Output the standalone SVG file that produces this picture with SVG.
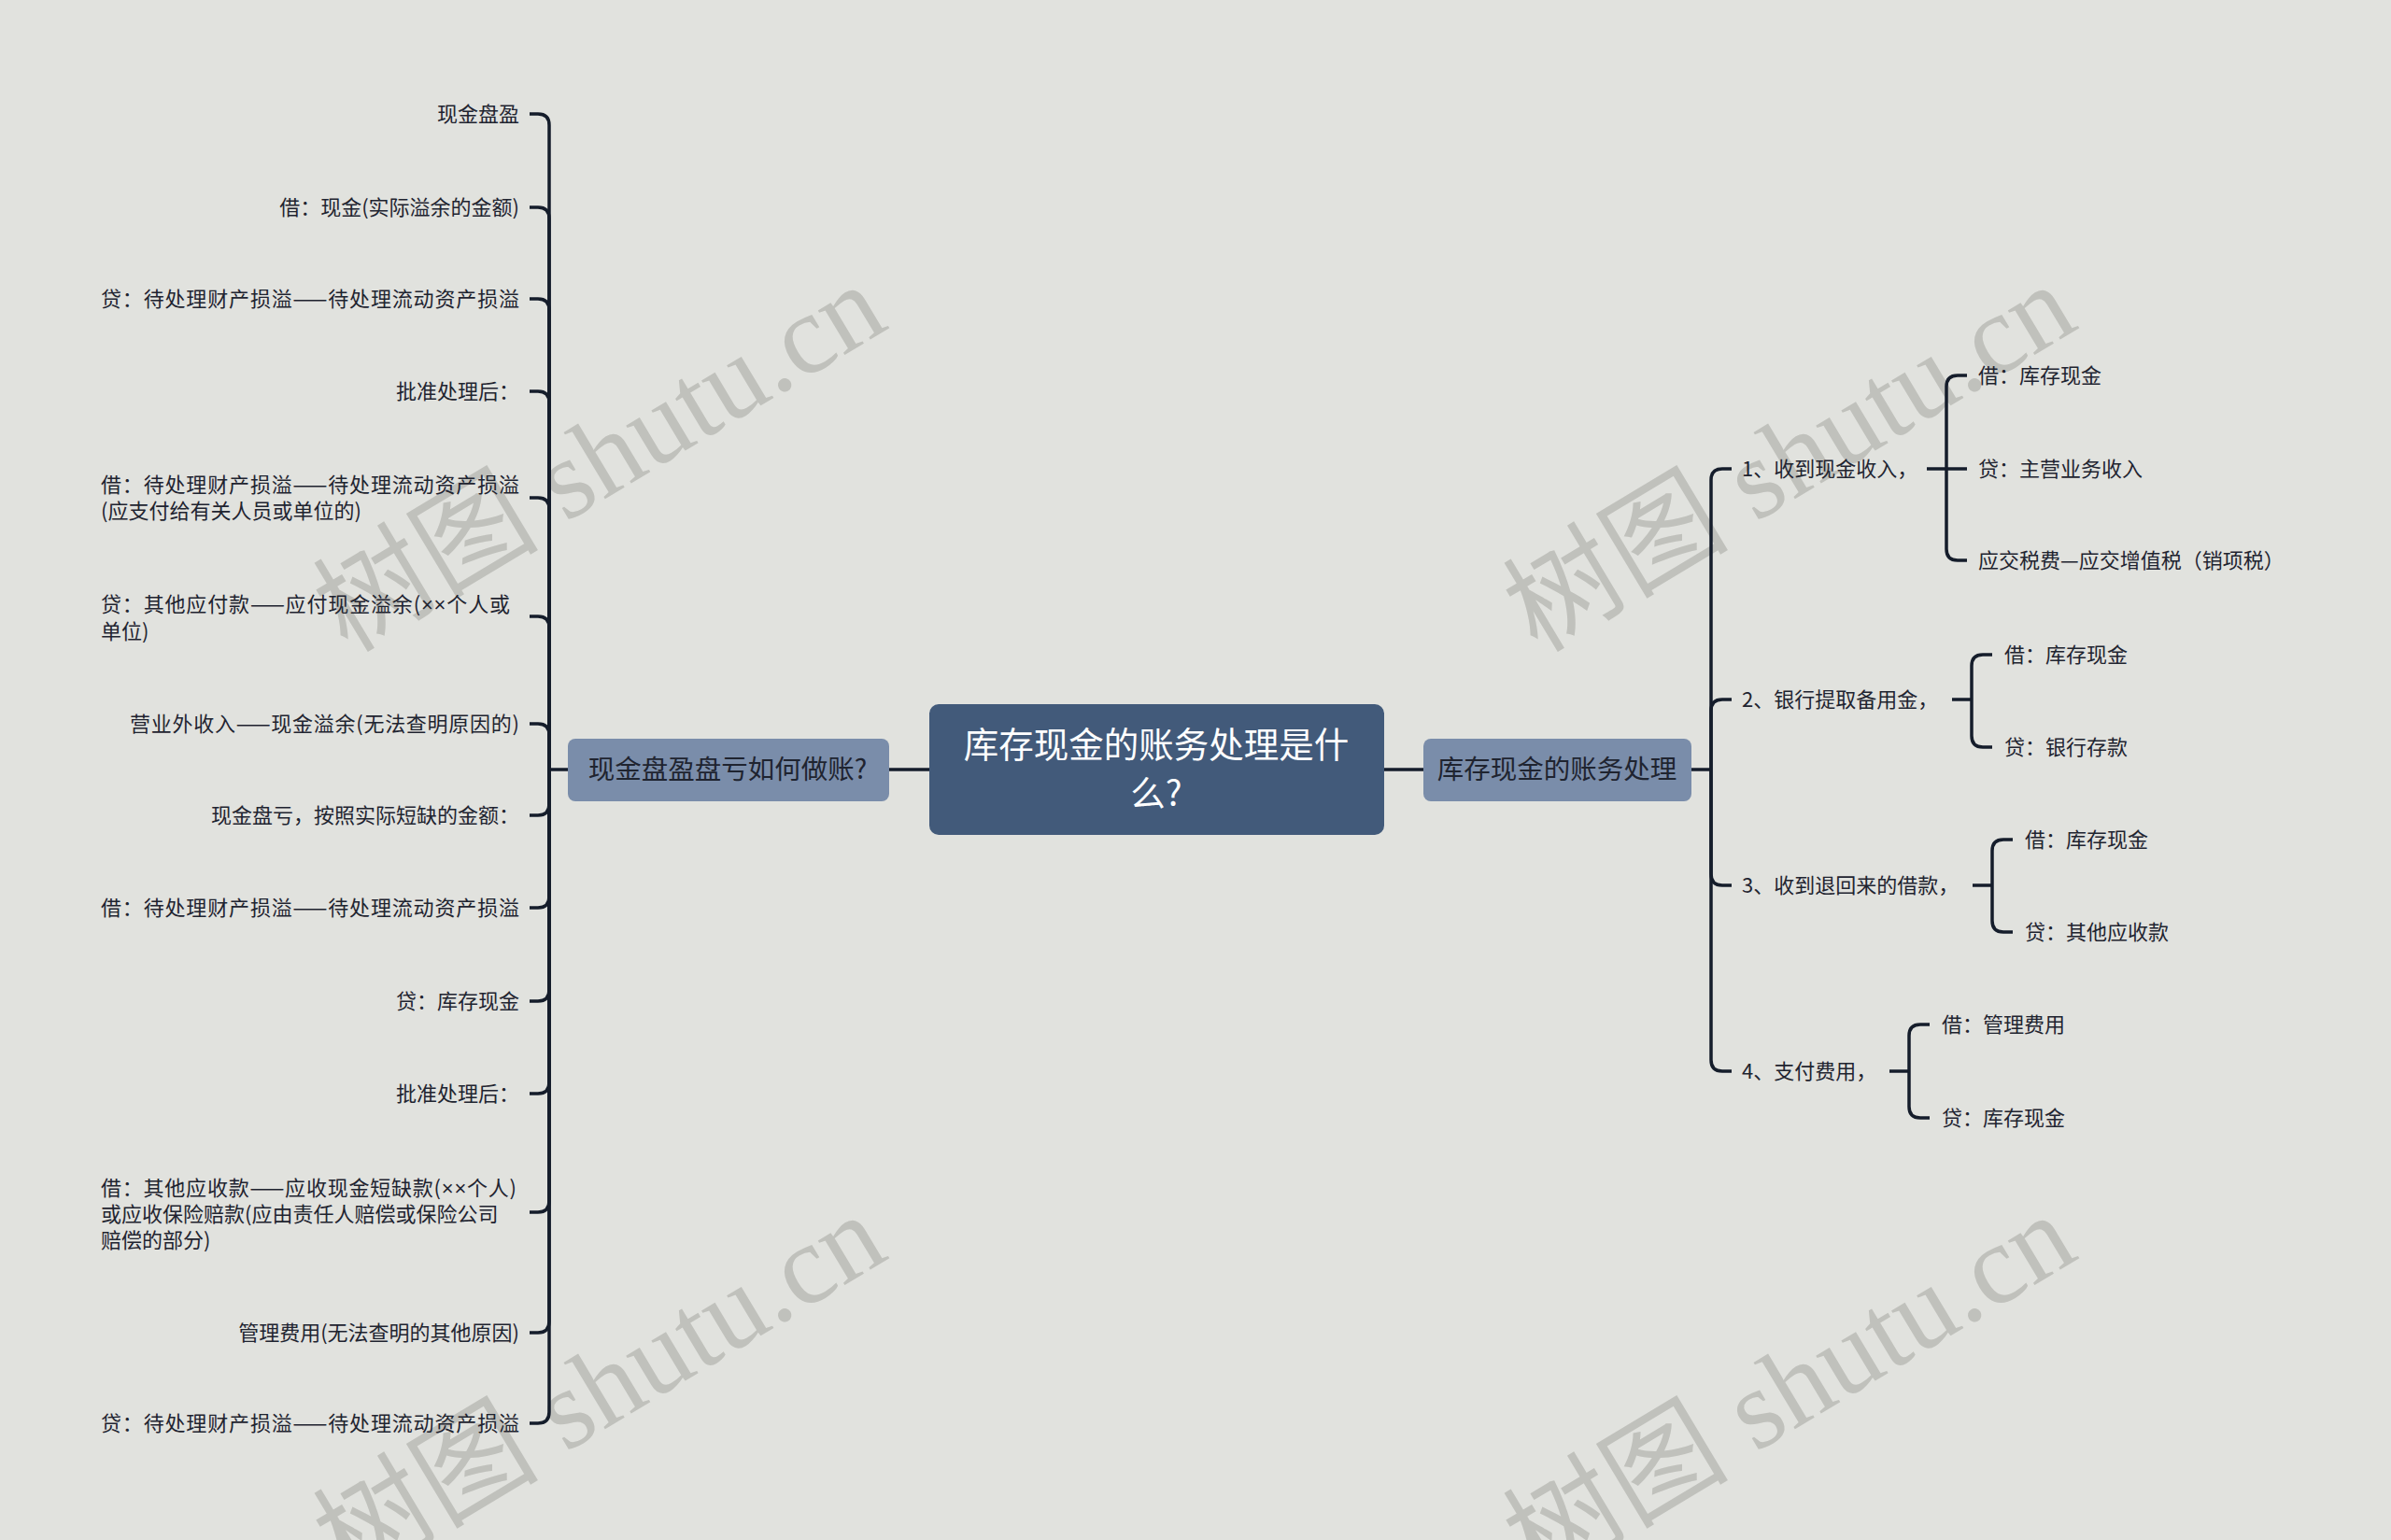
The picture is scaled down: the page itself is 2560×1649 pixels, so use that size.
<svg xmlns="http://www.w3.org/2000/svg" width="2560" height="1649" viewBox="0 0 2560 1649">
<style>
.bg{fill:#e1e2de}
.wm{font-family:"Liberation Serif","Noto Sans CJK SC",serif;font-size:121px;fill:#c0c1bc}
.t{font-family:"Noto Sans CJK SC","Noto Sans",sans-serif;font-size:22px;fill:#1f2430}
.r{text-anchor:end}
.x{font-family:"Liberation Sans",sans-serif}
.c{stroke:#151d2b;stroke-width:3.5;fill:none;stroke-linecap:butt}
.root{fill:#425a7a}
.sub{fill:#7a8daa}
.rt{font-family:"Noto Sans CJK SC","Noto Sans",sans-serif;font-size:37.5px;fill:#ffffff;text-anchor:middle}
.st{font-family:"Noto Sans CJK SC","Noto Sans",sans-serif;font-size:28.5px;fill:#1f2430;text-anchor:middle}
</style>
<rect class="bg" x="0" y="0" width="2560" height="1649"/>

<g id="watermarks">
<text class="wm" transform="translate(372,700) rotate(-31)">树图 shutu.cn</text>
<text class="wm" transform="translate(1646,700) rotate(-31)">树图 shutu.cn</text>
<text class="wm" transform="translate(372,1696) rotate(-31)">树图 shutu.cn</text>
<text class="wm" transform="translate(1646,1696) rotate(-31)">树图 shutu.cn</text>
</g>

<g id="connectors">
<path class="c" d="M995 824 H952"/>
<path class="c" d="M1482 824 H1524"/>
<path class="c" d="M608 824 H588"/>
<path class="c" d="M588 824 V134 Q588 122 576 122 H567"/>
<path class="c" d="M588 824 V234 Q588 222 576 222 H567"/>
<path class="c" d="M588 824 V332 Q588 320 576 320 H567"/>
<path class="c" d="M588 824 V431 Q588 419 576 419 H567"/>
<path class="c" d="M588 824 V545 Q588 533 576 533 H567"/>
<path class="c" d="M588 824 V672 Q588 660 576 660 H567"/>
<path class="c" d="M588 824 V787 Q588 775 576 775 H567"/>
<path class="c" d="M588 824 V861 Q588 873 576 873 H567"/>
<path class="c" d="M588 824 V960 Q588 972 576 972 H567"/>
<path class="c" d="M588 824 V1060 Q588 1072 576 1072 H567"/>
<path class="c" d="M588 824 V1159 Q588 1171 576 1171 H567"/>
<path class="c" d="M588 824 V1286 Q588 1298 576 1298 H567"/>
<path class="c" d="M588 824 V1415 Q588 1427 576 1427 H567"/>
<path class="c" d="M588 824 V1512 Q588 1524 576 1524 H567"/>

<path class="c" d="M1811 824 H1832"/>
<path class="c" d="M1832 824 V514 Q1832 502 1844 502 H1854"/>
<path class="c" d="M1832 824 V761 Q1832 749 1844 749 H1854"/>
<path class="c" d="M1832 824 V936 Q1832 948 1844 948 H1854"/>
<path class="c" d="M1832 824 V1135 Q1832 1147 1844 1147 H1854"/>

<path class="c" d="M2063 502 H2084"/>
<path class="c" d="M2084 502 V414 Q2084 402 2096 402 H2106"/>
<path class="c" d="M2084 502 H2106"/>
<path class="c" d="M2084 502 V588 Q2084 600 2096 600 H2106"/>

<path class="c" d="M2090 749 H2111"/>
<path class="c" d="M2111 749 V713 Q2111 701 2123 701 H2133"/>
<path class="c" d="M2111 749 V788 Q2111 800 2123 800 H2133"/>

<path class="c" d="M2112 948 H2133"/>
<path class="c" d="M2133 948 V911 Q2133 899 2145 899 H2155"/>
<path class="c" d="M2133 948 V986 Q2133 998 2145 998 H2155"/>

<path class="c" d="M2023 1147 H2044"/>
<path class="c" d="M2044 1147 V1109 Q2044 1097 2056 1097 H2066"/>
<path class="c" d="M2044 1147 V1185 Q2044 1197 2056 1197 H2066"/>
</g>

<g id="root">
<rect class="root" x="995" y="754" width="487" height="140" rx="10"/>
<text class="rt" x="1238" y="811">库存现金的账务处理是什</text>
<text class="rt" x="1238" y="863">么?</text>
</g>

<g id="left-main">
<rect class="sub" x="608" y="791" width="344" height="67" rx="8"/>
<text class="st" x="779" y="834">现金盘盈盘亏如何做账?</text>
</g>

<g id="right-main">
<rect class="sub" x="1524" y="791" width="287" height="67" rx="8"/>
<text class="st" x="1667" y="834">库存现金的账务处理</text>
</g>

<g id="l1"><text class="t r" x="556" y="130">现金盘盈</text></g>
<g id="l2"><text class="t r" x="556" y="230">借：现金(实际溢余的金额)</text></g>
<g id="l3"><text class="t" x="108" y="328" textLength="448" lengthAdjust="spacing">贷：待处理财产损溢——待处理流动资产损溢</text></g>
<g id="l4"><text class="t r" x="556" y="427">批准处理后：</text></g>
<g id="l5"><text class="t" x="108" y="527" textLength="448" lengthAdjust="spacing">借：待处理财产损溢——待处理流动资产损溢</text><text class="t" x="108" y="555">(应支付给有关人员或单位的)</text></g>
<g id="l6"><text class="t" x="108" y="655" textLength="438" lengthAdjust="spacing">贷：其他应付款——应付现金溢余(<tspan class="x">××</tspan>个人或</text><text class="t" x="108" y="684">单位)</text></g>
<g id="l7"><text class="t" x="139" y="783" textLength="417" lengthAdjust="spacing">营业外收入——现金溢余(无法查明原因的)</text></g>
<g id="l8"><text class="t r" x="556" y="881">现金盘亏，按照实际短缺的金额：</text></g>
<g id="l9"><text class="t" x="108" y="980" textLength="448" lengthAdjust="spacing">借：待处理财产损溢——待处理流动资产损溢</text></g>
<g id="l10"><text class="t r" x="556" y="1080">贷：库存现金</text></g>
<g id="l11"><text class="t r" x="556" y="1179">批准处理后：</text></g>
<g id="l12"><text class="t" x="108" y="1280" textLength="445" lengthAdjust="spacing">借：其他应收款——应收现金短缺款(<tspan class="x">××</tspan>个人)</text><text class="t" x="108" y="1308">或应收保险赔款(应由责任人赔偿或保险公司</text><text class="t" x="108" y="1336">赔偿的部分)</text></g>
<g id="l13"><text class="t r" x="556" y="1435">管理费用(无法查明的其他原因)</text></g>
<g id="l14"><text class="t" x="108" y="1532" textLength="448" lengthAdjust="spacing">贷：待处理财产损溢——待处理流动资产损溢</text></g>

<g id="r1"><text class="t" x="1865" y="510">1、收到现金收入，</text></g>
<g id="r1a"><text class="t" x="2118" y="410">借：库存现金</text></g>
<g id="r1b"><text class="t" x="2118" y="510">贷：主营业务收入</text></g>
<g id="r1c"><text class="t" x="2118" y="608">应交税费—应交增值税（销项税）</text></g>
<g id="r2"><text class="t" x="1865" y="757">2、银行提取备用金，</text></g>
<g id="r2a"><text class="t" x="2146" y="709">借：库存现金</text></g>
<g id="r2b"><text class="t" x="2146" y="808">贷：银行存款</text></g>
<g id="r3"><text class="t" x="1865" y="956">3、收到退回来的借款，</text></g>
<g id="r3a"><text class="t" x="2168" y="907">借：库存现金</text></g>
<g id="r3b"><text class="t" x="2168" y="1006">贷：其他应收款</text></g>
<g id="r4"><text class="t" x="1865" y="1155">4、支付费用，</text></g>
<g id="r4a"><text class="t" x="2079" y="1105">借：管理费用</text></g>
<g id="r4b"><text class="t" x="2079" y="1205">贷：库存现金</text></g>
</svg>
